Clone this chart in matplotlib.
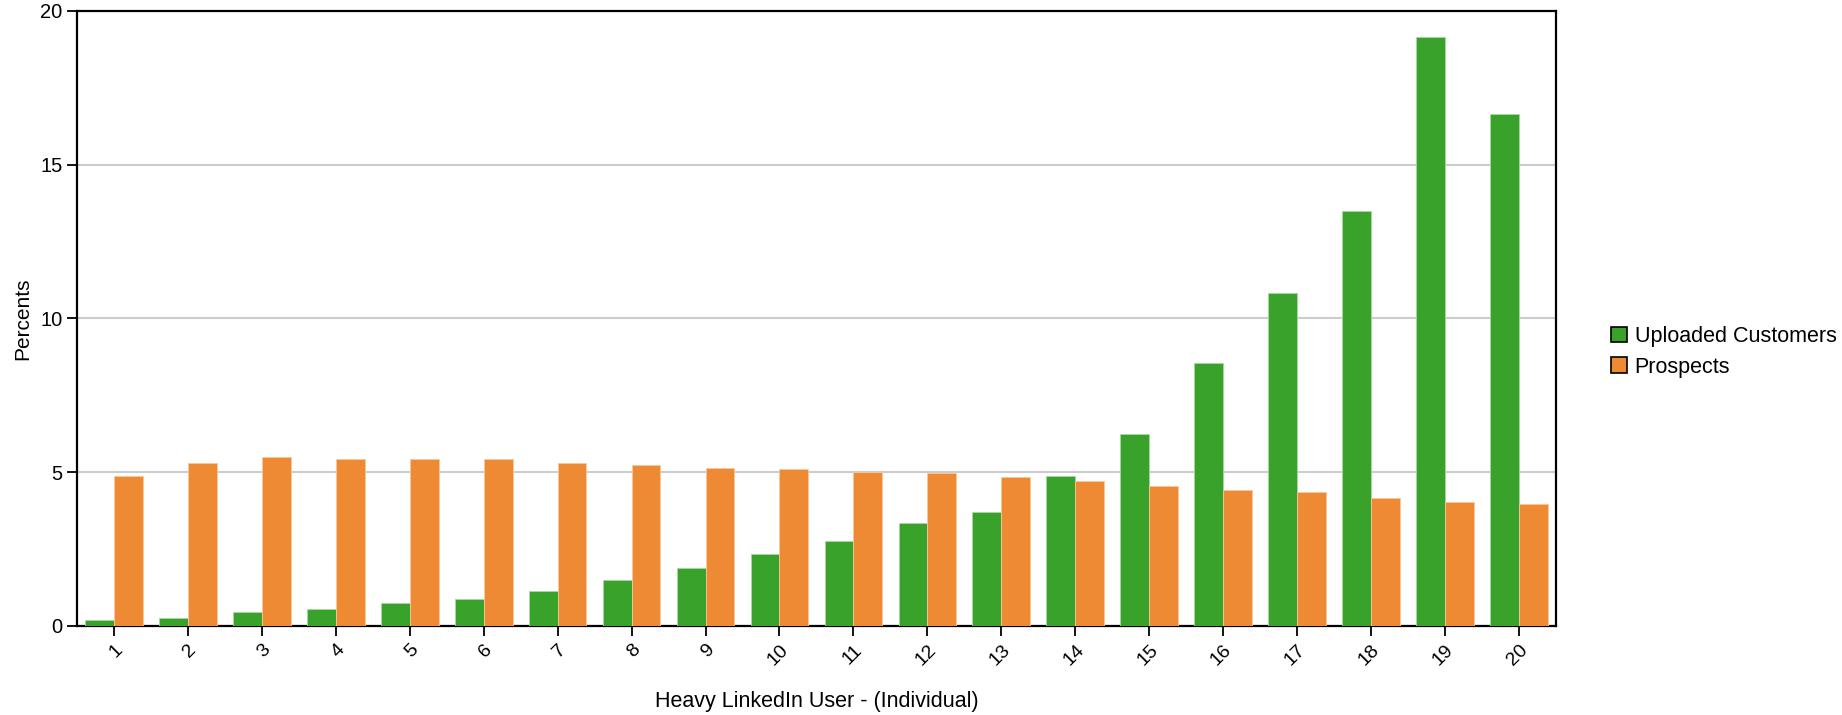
import numpy as np
import matplotlib
matplotlib.use("Agg")
import matplotlib.pyplot as plt
from matplotlib.patches import Patch

# data
groups = [str(i) for i in range(1, 21)]
uploaded_customers = [0.21, 0.27, 0.47, 0.54, 0.74, 0.88, 1.14, 1.48, 1.88, 2.35,
                      2.76, 3.36, 3.70, 4.89, 6.24, 8.55, 10.83, 13.50, 19.14, 16.63]
prospects = [4.89, 5.29, 5.50, 5.42, 5.42, 5.42, 5.29, 5.23, 5.15, 5.10,
             5.02, 4.97, 4.83, 4.70, 4.55, 4.42, 4.36, 4.16, 4.03, 3.96]
yticks = [0, 5, 10, 15, 20]

green = "#39a22a"
orange = "#ee8a33"

plt.rcParams["font.family"] = ["Liberation Sans", "DejaVu Sans"]

fig = plt.figure(figsize=(18.42, 7.15), dpi=100)
ax = fig.add_axes([0.0418, 0.1245, 0.8029, 0.8605])

x = np.arange(len(groups))
w = 0.39
ax.bar(x - w / 2, uploaded_customers, w, color=green, edgecolor="#a8d8a0", linewidth=0.6, zorder=3)
ax.bar(x + w / 2, prospects, w, color=orange, edgecolor="#f8c89c", linewidth=0.6, zorder=3)

ax.set_xlim(-0.5, len(groups) - 0.5)
ax.set_ylim(0, 20)
ax.set_yticks(yticks)
ax.set_yticklabels([str(t) for t in yticks], fontsize=14.5)
ax.set_xticks(x)
ax.set_xticklabels(groups, rotation=45, ha="right", rotation_mode="anchor", fontsize=14)
ax.tick_params(axis="both", direction="out", length=7, width=1.3, color="black")
ax.tick_params(axis="x", pad=4)

ax.yaxis.grid(True, color="#cccccc", linewidth=1.5, zorder=0)
ax.set_axisbelow(True)
for s in ax.spines.values():
    s.set_linewidth(1.6)
    s.set_color("black")

ax.set_ylabel("Percents", fontsize=15, labelpad=6)
ax.set_xlabel("Heavy LinkedIn User - (Individual)", fontsize=15.5, labelpad=16)

handles = [Patch(facecolor=green, edgecolor="black", linewidth=1.2),
           Patch(facecolor=orange, edgecolor="black", linewidth=1.2)]
fig.legend(handles, ["Uploaded Customers", "Prospects"], loc="center left",
           bbox_to_anchor=(0.864, 0.508), frameon=False, fontsize=15.5,
           handlelength=0.75, handleheight=0.75, handletextpad=0.35, labelspacing=0.45)

fig.savefig("out.png", dpi=100)
